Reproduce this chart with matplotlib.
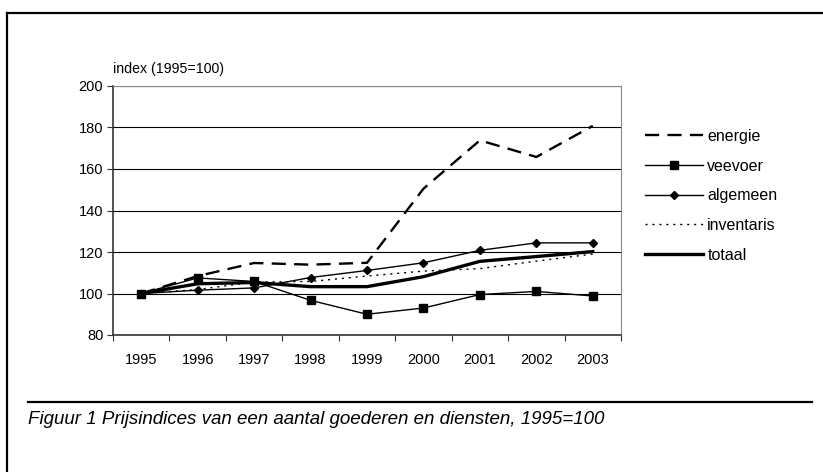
import numpy as np
from matplotlib import pyplot as plt
from matplotlib.lines import Line2D

plt.rcParams['font.family'] = ['Liberation Sans', 'DejaVu Sans']

years = ['1995', '1996', '1997', '1998', '1999', '2000', '2001', '2002', '2003']
energie = [100, 108.4, 114.7, 113.9, 114.8, 150.5, 173.8, 165.8, 180.8]
veevoer = [100, 107.5, 105.8, 96.7, 90.0, 93.0, 99.5, 101.0, 98.8]
algemeen = [100, 101.6, 102.7, 107.7, 111.1, 114.8, 120.8, 124.4, 124.4]
inventaris = [100, 101.9, 105.5, 105.8, 108.4, 110.8, 112.0, 115.6, 119.0]
totaal = [100, 104.7, 105.3, 103.3, 103.3, 108.1, 115.5, 117.8, 120.2]
yticks = [80, 100, 120, 140, 160, 180, 200]

W, H = 823, 472
fig = plt.figure(figsize=(W / 100, H / 100), dpi=100)

def fx(px):
    return px / W

def fy(py):
    return 1 - py / H

# frame lines around the figure
fig.add_artist(Line2D([fx(7), fx(823)], [fy(13), fy(13)], color='black', lw=1.6))
fig.add_artist(Line2D([fx(7), fx(7)], [fy(13), fy(472)], color='black', lw=1.6))
fig.add_artist(Line2D([fx(28), fx(812)], [fy(402), fy(402)], color='black', lw=1.6))

ax = fig.add_axes([fx(113), fy(335), fx(621) - fx(113), fy(86) - fy(335)])
x = np.arange(len(years))

ax.plot(x, energie, color='black', lw=1.7, dashes=(6, 3.5), label='energie')
ax.plot(x, veevoer, color='black', lw=1.0, marker='s', ms=6, label='veevoer')
ax.plot(x, algemeen, color='black', lw=1.0, marker='D', ms=4, label='algemeen')
ax.plot(x, inventaris, color='black', lw=1.0, dashes=(1.5, 3.5), label='inventaris')
ax.plot(x, totaal, color='black', lw=2.4, label='totaal')

ax.set_xlim(-0.5, len(years) - 0.5)
ax.set_ylim(80, 200)
ax.set_yticks(yticks)
ax.yaxis.grid(True, color='black', lw=0.8)
ax.set_axisbelow(True)

ax.set_xticks(np.arange(-0.5, len(years), 1.0))
ax.set_xticklabels([])
ax.set_xticks(x, minor=True)
ax.set_xticklabels(years, minor=True)
ax.tick_params(axis='x', which='major', direction='out', length=4, color='#333333')
ax.tick_params(axis='x', which='minor', length=0, pad=13, labelsize=10.5)
ax.tick_params(axis='y', direction='out', length=4, pad=3, labelsize=10.5, color='#333333')

for s in ['top', 'right']:
    ax.spines[s].set_color('#888888')
for s in ['left', 'bottom']:
    ax.spines[s].set_color('#333333')
    ax.spines[s].set_linewidth(1.2)

fig.text(fx(113), fy(69), 'index (1995=100)', fontsize=10.2, va='center', ha='left')

leg = ax.legend(loc='upper left', bbox_to_anchor=(fx(645), fy(129)), bbox_transform=fig.transFigure,
                frameon=False, fontsize=11.5, handlelength=3.6, handletextpad=0.3,
                labelspacing=0.92, borderpad=0, borderaxespad=0)

fig.text(fx(28), fy(420), 'Figuur 1 Prijsindices van een aantal goederen en diensten, 1995=100',
         fontsize=13.5, style='italic', va='center', ha='left',
         family=['Liberation Sans Narrow', 'Liberation Sans'])

fig.savefig('out.png', dpi=100)
